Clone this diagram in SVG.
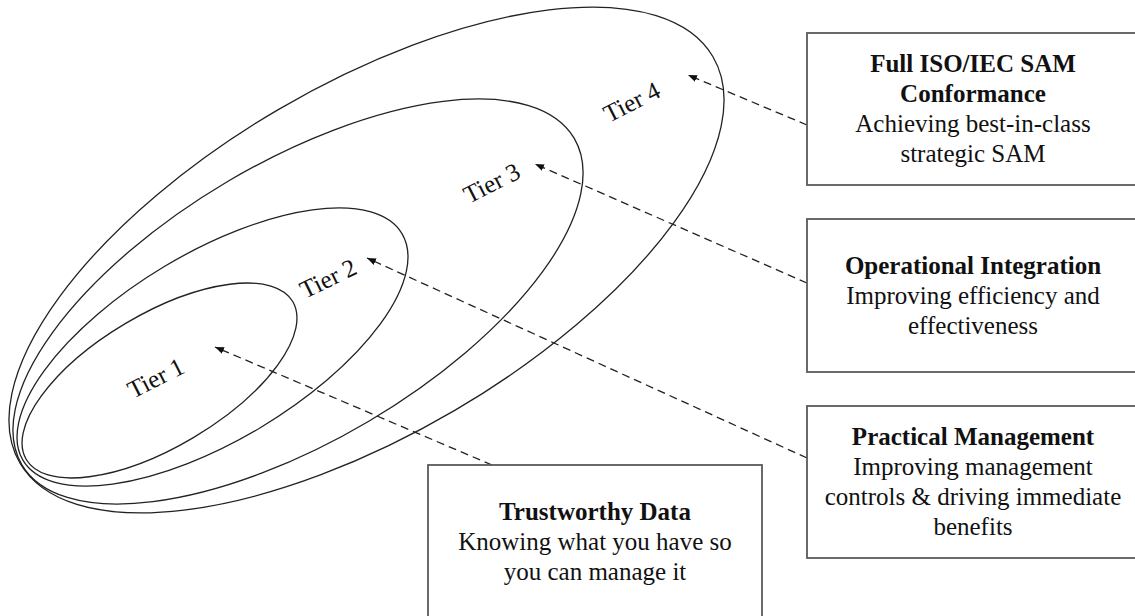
<svg xmlns="http://www.w3.org/2000/svg" width="1135" height="616" viewBox="0 0 1135 616">
<defs>
<style>
.ell{fill:none;stroke:#222;stroke-width:1.3}
.box{fill:#fff;stroke:#5a5a5a;stroke-width:1.8}
.t{font-family:"Liberation Serif","Times New Roman",serif;font-size:25px;fill:#111;text-anchor:middle}
.b{font-weight:bold}
.tier{font-family:"Liberation Serif","Times New Roman",serif;font-size:25px;fill:#111}
.con{fill:none;stroke:#222;stroke-width:1.3;stroke-dasharray:8 5}
</style>
<marker id="ah" viewBox="0 0 9 7" refX="9" refY="3.5" markerWidth="9" markerHeight="7" markerUnits="userSpaceOnUse" orient="auto">
<path d="M0,0 L9,3.5 L0,7 Z" fill="#111"/>
</marker>
</defs>
<rect width="1135" height="616" fill="#fff"/>
<g id="tier4">
<ellipse class="ell" cx="366.5" cy="260" rx="401.7" ry="174.4" transform="rotate(-30.4 366.5 260)"/>
<text class="tier" transform="translate(609 123) rotate(-27)">Tier 4</text>
</g>
<g id="tier3">
<ellipse class="ell" cx="298" cy="301.5" rx="320.8" ry="139.1" transform="rotate(-30.6 298 301.5)"/>
<text class="tier" transform="translate(469 204) rotate(-27)">Tier 3</text>
</g>
<g id="tier2">
<ellipse class="ell" cx="212.5" cy="347" rx="220.8" ry="93.8" transform="rotate(-30.9 212.5 347)"/>
<text class="tier" transform="translate(305 299) rotate(-26)">Tier 2</text>
</g>
<g id="tier1">
<ellipse class="ell" cx="159.5" cy="380.5" rx="154.9" ry="66.4" transform="rotate(-30.67 159.5 380.5)"/>
<text class="tier" transform="translate(133 399) rotate(-27)">Tier 1</text>
</g>
<g id="connectors">
<line class="con" x1="492" y1="465" x2="215" y2="347" marker-end="url(#ah)"/>
<line class="con" x1="807" y1="458" x2="367" y2="258" marker-end="url(#ah)"/>
<line class="con" x1="807" y1="283" x2="535" y2="164" marker-end="url(#ah)"/>
<line class="con" x1="807" y1="125" x2="688" y2="75" marker-end="url(#ah)"/>
</g>
<g id="box-full-iso">
<rect class="box" x="807" y="33" width="340" height="152"/>
<text class="t b" x="973" y="72">Full ISO/IEC SAM</text>
<text class="t b" x="973" y="102">Conformance</text>
<text class="t" x="973" y="132">Achieving best-in-class</text>
<text class="t" x="973" y="162">strategic SAM</text>
</g>
<g id="box-operational">
<rect class="box" x="807" y="219" width="340" height="153"/>
<text class="t b" x="973" y="274">Operational Integration</text>
<text class="t" x="973" y="304">Improving efficiency and</text>
<text class="t" x="973" y="334">effectiveness</text>
</g>
<g id="box-practical">
<rect class="box" x="807" y="406" width="340" height="152"/>
<text class="t b" x="973" y="445">Practical Management</text>
<text class="t" x="973" y="475">Improving management</text>
<text class="t" x="973" y="505">controls &amp; driving immediate</text>
<text class="t" x="973" y="535">benefits</text>
</g>
<g id="box-trustworthy">
<rect class="box" x="428" y="465" width="334" height="170"/>
<text class="t b" x="595" y="520">Trustworthy Data</text>
<text class="t" x="595" y="550">Knowing what you have so</text>
<text class="t" x="595" y="580">you can manage it</text>
</g>
</svg>
